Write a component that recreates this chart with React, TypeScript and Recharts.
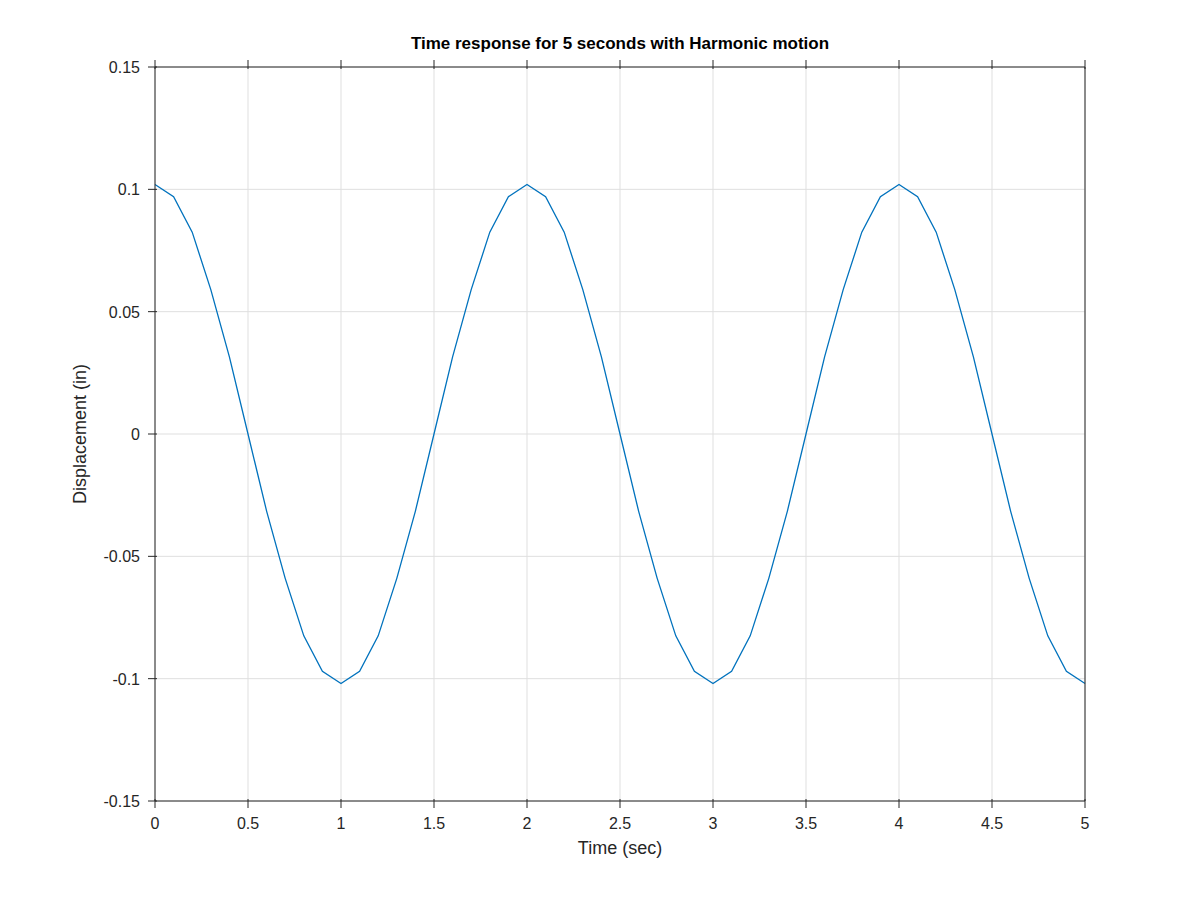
import { LineChart, Line, XAxis, YAxis, CartesianGrid } from 'recharts'

const times = [
  0, 0.1, 0.2, 0.3, 0.4, 0.5, 0.6, 0.7, 0.8, 0.9, 1, 1.1, 1.2, 1.3, 1.4, 1.5, 1.6, 1.7, 1.8, 1.9, 2,
  2.1, 2.2, 2.3, 2.4, 2.5, 2.6, 2.7, 2.8, 2.9, 3, 3.1, 3.2, 3.3, 3.4, 3.5, 3.6, 3.7, 3.8, 3.9, 4,
  4.1, 4.2, 4.3, 4.4, 4.5, 4.6, 4.7, 4.8, 4.9, 5,
]
const displacement = [
  0.102, 0.097, 0.0825, 0.059, 0.0315, 0, -0.0315, -0.059, -0.0825, -0.097, -0.102,
  -0.097, -0.0825, -0.059, -0.0315, 0, 0.0315, 0.059, 0.0825, 0.097, 0.102,
  0.097, 0.0825, 0.059, 0.0315, 0, -0.0315, -0.059, -0.0825, -0.097, -0.102,
  -0.097, -0.0825, -0.059, -0.0315, 0, 0.0315, 0.059, 0.0825, 0.097, 0.102,
  0.097, 0.0825, 0.059, 0.0315, 0, -0.0315, -0.059, -0.0825, -0.097, -0.102,
]
const xTicks = [0, 0.5, 1, 1.5, 2, 2.5, 3, 3.5, 4, 4.5, 5]
const yTicks = [-0.15, -0.1, -0.05, 0, 0.05, 0.1, 0.15]

const data = times.map((t, i) => ({ t, y: displacement[i] }))
const font = 'Helvetica, "Liberation Sans", Arial, sans-serif'
const ink = '#262626'

const XTick = (props: any) => {
  const { x, y, payload } = props
  return (
    <g>
      <line x1={x} x2={x} y1={y - 1} y2={y - 10} stroke={ink} />
      <text x={x} y={y + 20} textAnchor="middle" fontSize={16} fill={ink} fontFamily={font}>
        {payload.value}
      </text>
    </g>
  )
}
const YTick = (props: any) => {
  const { x, y, payload } = props
  return (
    <g>
      <line x1={x + 1} x2={x + 10} y1={y} y2={y} stroke={ink} />
      <text x={x - 7} y={y + 6} textAnchor="end" fontSize={16} fill={ink} fontFamily={font}>
        {payload.value}
      </text>
    </g>
  )
}
const XTickTop = (props: any) => {
  const { x, y } = props
  return <line x1={x} x2={x} y1={y + 1} y2={y + 10} stroke={ink} />
}
const YTickRight = (props: any) => {
  const { x, y } = props
  return <line x1={x - 1} x2={x - 10} y1={y} y2={y} stroke={ink} />
}

export default function App() {
  return (
    <div style={{ position: 'relative', width: 1200, height: 900, margin: -8, background: '#fff', fontFamily: font }}>
      <div style={{ position: 'absolute', top: 34, left: 155, width: 930, textAlign: 'center', fontSize: 17, fontWeight: 'bold', color: '#000' }}>
        Time response for 5 seconds with Harmonic motion
      </div>
      <div style={{ position: 'absolute', top: 838, left: 155, width: 930, textAlign: 'center', fontSize: 18, color: ink }}>
        Time (sec)
      </div>
      <div style={{ position: 'absolute', left: 80, top: 434, transform: 'translate(-50%, -50%) rotate(-90deg)', fontSize: 18, color: ink, whiteSpace: 'nowrap' }}>
        Displacement (in)
      </div>
      <LineChart width={1200} height={900} data={data} margin={{ top: 66, right: 114, bottom: 98, left: 154 }}>
        <CartesianGrid stroke="#dfdfdf" />
        <XAxis dataKey="t" type="number" domain={[0, 5]} ticks={xTicks} height={1} stroke={ink} tickLine={false} tick={<XTick />} interval={0} />
        <XAxis xAxisId="t" orientation="top" dataKey="t" type="number" domain={[0, 5]} ticks={xTicks} height={1} stroke={ink} tickLine={false} tick={<XTickTop />} interval={0} />
        <YAxis type="number" domain={[-0.15, 0.15]} ticks={yTicks} width={1} stroke={ink} tickLine={false} tick={<YTick />} interval={0} />
        <YAxis yAxisId="r" orientation="right" type="number" domain={[-0.15, 0.15]} ticks={yTicks} width={1} stroke={ink} tickLine={false} tick={<YTickRight />} interval={0} />
        <Line dataKey="y" stroke="#0072bd" strokeWidth={1.3} dot={false} isAnimationActive={false} />
      </LineChart>
    </div>
  )
}
